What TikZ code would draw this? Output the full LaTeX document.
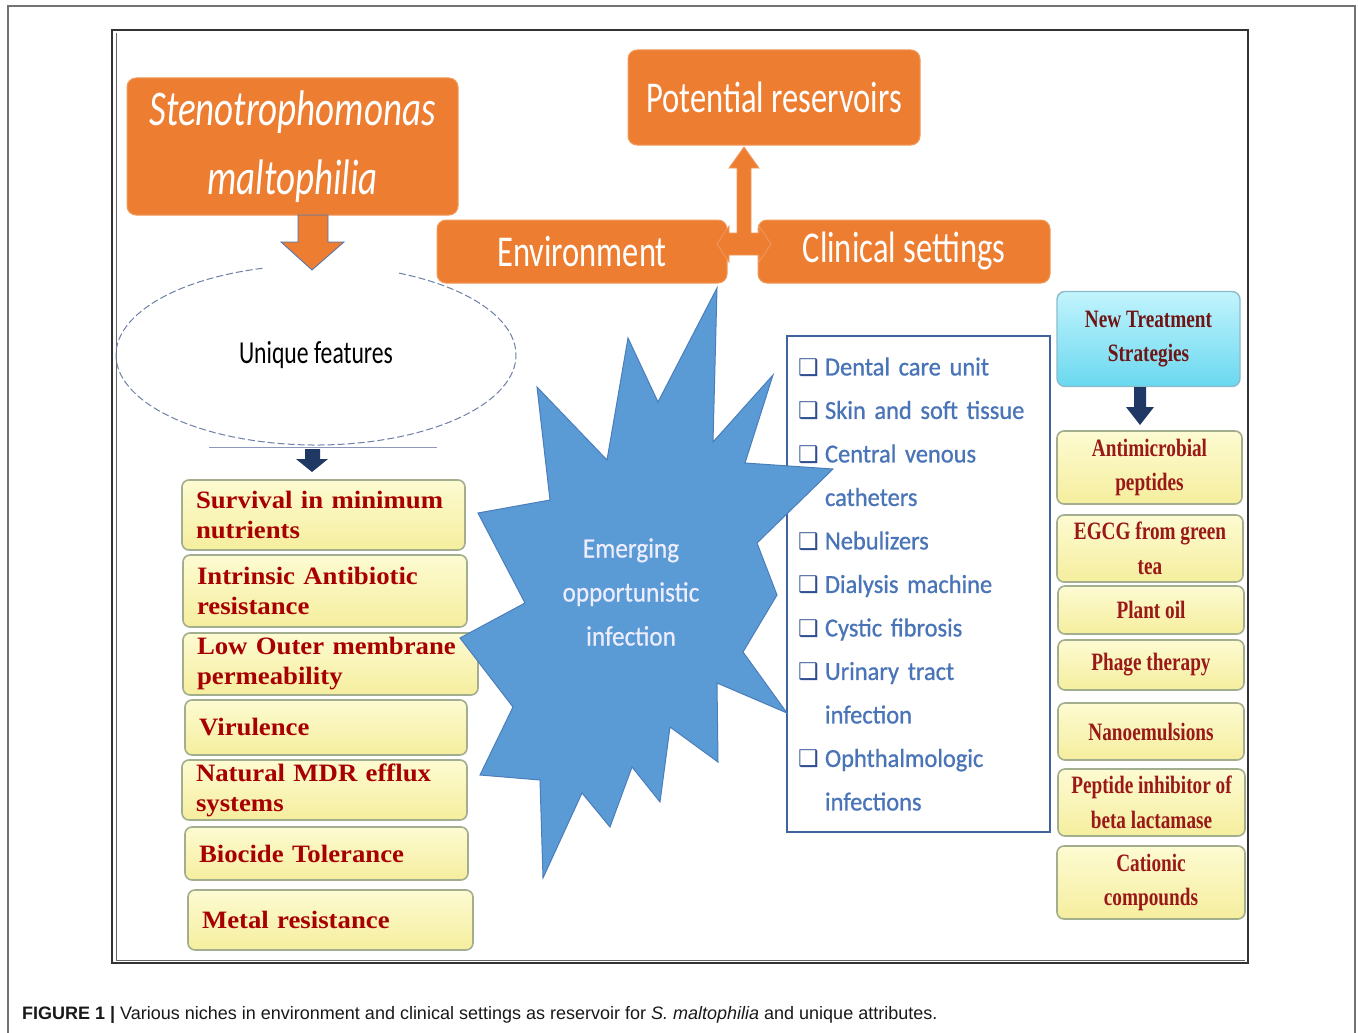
\documentclass[tikz,border=0pt]{standalone}
\usepackage{fontspec}
\setmainfont{Liberation Serif}
\newfontfamily\calA[FakeStretch=0.74]{Carlito}
\newfontfamily\calB[FakeStretch=0.9, FakeBold=0.5]{Carlito}
\newfontfamily\calL[FakeStretch=0.94, FakeBold=0.8]{Carlito}
\newfontfamily\serW[FakeStretch=1.07]{Liberation Serif}
\newfontfamily\serN[FakeStretch=0.77]{Liberation Serif}
\newfontfamily\capf{Liberation Sans}
\newfontfamily\djv{DejaVu Sans}
\definecolor{orng}{HTML}{ED7D31}
\definecolor{orngedge}{HTML}{F19A5C}
\definecolor{featred}{HTML}{A80000}
\definecolor{treatred}{HTML}{9A1818}
\definecolor{treatdark}{HTML}{6E1616}
\definecolor{listblue}{HTML}{4A74B8}
\definecolor{cbblue}{HTML}{2F4F8F}
\definecolor{starblue}{HTML}{5B9BD5}
\definecolor{staredge}{HTML}{4A7EBB}
\definecolor{navy}{HTML}{1F3864}
\definecolor{ybox}{HTML}{FDFBD2}
\definecolor{ybot}{HTML}{F5EE9E}
\definecolor{yedge}{HTML}{A3AE8E}
\definecolor{ctop}{HTML}{C2F4FD}
\definecolor{cbot}{HTML}{6AD8EF}
\definecolor{cedge}{HTML}{8CBCCB}
\definecolor{elcol}{HTML}{6E7FA8}
\newcommand\cbx{\makebox[27pt][l]{\djv\fontsize{23}{23}\selectfont\color{cbblue}❑}}
\newcommand\ind{\hspace*{27pt}}
\tikzset{
  orbox/.style={rectangle, rounded corners=9pt, fill=orng, draw=orngedge, line width=1pt,
    inner sep=0pt, text=white},
  featbox/.style={rectangle, rounded corners=7pt, top color=ybox, bottom color=ybot,
    draw=yedge, line width=1.6pt, inner xsep=14pt, inner ysep=0pt, align=left,
    text=featred, font=\serW\bfseries\fontsize{25}{30}\selectfont},
  treatbox/.style={rectangle, rounded corners=7pt, top color=ybox, bottom color=ybot,
    draw=yedge, line width=1.6pt, inner xsep=4pt, inner ysep=0pt, align=center,
    text=treatred, font=\serN\bfseries\fontsize{25}{34.5}\selectfont},
  blockarrow/.style={line width=0.8pt},
}
\begin{document}
\begin{tikzpicture}[x=1pt,y=-1pt]
\useasboundingbox (0,0) rectangle (1358,1033);
\fill[white] (0,0) rectangle (1358,1033);
% outer frame
\draw[black!55, line width=1.2pt] (8,1033) -- (8,6) -- (1355,6) -- (1355,1033);
% inner frame
\draw[black!80, line width=2pt] (112,30) rectangle (1248,963);
\draw[black!60, line width=0.8pt] (116,33) -- (116,960) -- (1245,960);

% orange boxes
\node[orbox, minimum width=331pt, minimum height=137pt, align=center,
  font=\calA\itshape\fontsize{50}{69}\selectfont] (steno) at (292.5,146.5)
  {Stenotrophomonas\\maltophilia};
\node[orbox, minimum width=292pt, minimum height=95pt,
  font=\calA\fontsize{44}{50}\selectfont] (pot) at (774,97.5) {Potential reservoirs};
\node[orbox, minimum width=290pt, minimum height=63pt,
  font=\calA\fontsize{44}{50}\selectfont] (env) at (582,251.5) {Environment};
\node[orbox, minimum width=292pt, minimum height=63pt,
  font=\calA\fontsize{44}{50}\selectfont] (clin) at (904,251.5) {Clinical settings};

% up / left-right arrow
\filldraw[fill=orng, draw=orngedge, blockarrow]
  (737,233) -- (737,168) -- (729,168) -- (744,147) -- (759,168) -- (751,168) -- (751,233)
  -- (759,233) -- (759,226) -- (771,244) -- (759,262) -- (759,255) -- (729,255)
  -- (729,262) -- (717,244) -- (729,226) -- (729,233) -- cycle;

% down arrow from steno
\filldraw[fill=orng, draw=listblue, blockarrow]
  (298,215) -- (328,215) -- (328,242) -- (344,242) -- (312,270) -- (281,242) -- (298,242) -- cycle;

% ellipse
\draw[elcol, line width=1pt, dash pattern=on 7pt off 3pt]
  (316,355) ++(294.5:200 and 90) arc[start angle=294.5, end angle=615.2, x radius=200, y radius=90];
\draw[elcol!80, line width=1pt] (209,447) -- (437,447);
\node[font=\calA\fontsize{32}{36}\selectfont, text=black] (uf) at (316,355) {Unique features};

% navy arrow below ellipse
\fill[navy] (305,449) -- (320,449) -- (320,459) -- (328,459) -- (312,472) -- (296,459) -- (305,459) -- cycle;

% feature boxes
\node[featbox, minimum width=283pt, minimum height=70pt, text width=255pt] (f1) at (323.5,515)
  {Survival in minimum\\nutrients};
\node[featbox, minimum width=284pt, minimum height=72pt, text width=256pt] (f2) at (325,591)
  {Intrinsic Antibiotic\\resistance};
\node[featbox, minimum width=295pt, minimum height=62pt, text width=267pt] (f3) at (330.5,664)
  {Low Outer membrane\\permeability};
\node[featbox, minimum width=282pt, minimum height=55pt, text width=254pt] (f4) at (326,727.5)
  {Virulence};
\node[featbox, minimum width=285pt, minimum height=60pt, text width=257pt] (f5) at (324.5,790)
  {Natural MDR efflux\\systems};
\node[featbox, minimum width=283pt, minimum height=53pt, text width=255pt] (f6) at (326.5,853.5)
  {Biocide Tolerance};
\node[featbox, minimum width=285pt, minimum height=60pt, text width=257pt] (f7) at (330.5,920)
  {Metal resistance};

% list box
\node[draw=listblue!85!black, line width=1.2pt, minimum width=263pt, minimum height=496pt,
  inner xsep=11pt, text width=241pt, align=left, text=listblue,
  font=\calL\fontsize{26}{43.5}\selectfont] (lst) at (918.5,584)
  {\cbx Dental care unit\\
   \cbx Skin and soft tissue\\
   \cbx Central venous\\
   \ind catheters\\
   \cbx Nebulizers\\
   \cbx Dialysis machine\\
   \cbx Cystic fibrosis\\
   \cbx Urinary tract\\
   \ind infection\\
   \cbx Ophthalmologic\\
   \ind infections};

% treatment column
\node[rectangle, rounded corners=8pt, top color=ctop, bottom color=cbot, draw=cedge,
  line width=1.4pt, minimum width=183pt, minimum height=95pt, inner sep=4pt, align=center,
  text=treatdark, font=\serN\bfseries\fontsize{25}{34.5}\selectfont] (r0) at (1148.5,339)
  {New Treatment\\Strategies};
\fill[navy] (1134,387) -- (1146,387) -- (1146,407) -- (1154,407) -- (1140,425) -- (1126,407) -- (1134,407) -- cycle;
\node[treatbox, minimum width=185pt, minimum height=73pt] (r1) at (1149.5,467.5) {Antimicrobial\\peptides};
\node[treatbox, minimum width=186pt, minimum height=67pt] (r2) at (1150,548.5) {EGCG from green\\tea};
\node[treatbox, minimum width=186pt, minimum height=48pt] (r3) at (1151,610) {Plant oil};
\node[treatbox, minimum width=186pt, minimum height=50pt] (r4) at (1151,665) {Phage therapy};
\node[treatbox, minimum width=186pt, minimum height=57pt] (r5) at (1151,731.5) {Nanoemulsions};
\node[treatbox, minimum width=187pt, minimum height=67pt] (r6) at (1151.5,802.5) {Peptide inhibitor of\\beta lactamase};
\node[treatbox, minimum width=188pt, minimum height=73pt] (r7) at (1151,882.5) {Cationic\\compounds};

% star
\filldraw[fill=starblue, draw=staredge, line width=1pt]
  (717,288) -- (713,442) -- (773,375) -- (745,463) -- (833,469) -- (757,543) -- (777,595)
  -- (743,652) -- (787,713) -- (717,683) -- (718,762) -- (670,727) -- (660,802) -- (632,767)
  -- (610,827) -- (582,793) -- (543,878) -- (540,780) -- (480,775) -- (513,707) -- (460,638)
  -- (525,603) -- (478,513) -- (550,500) -- (537,387) -- (607,460) -- (628,338) -- (658,402)
  -- cycle;
\node[align=center, text=white!93!blue, font=\calB\fontsize{28}{44}\selectfont] (emerg) at (631,592)
  {Emerging\\opportunistic\\infection};

% caption
\node[anchor=base west, inner sep=0pt, font=\capf\fontsize{18}{20}\selectfont, text=black!90] (cap) at (22,1019)
  {\textbf{FIGURE 1 |} Various niches in environment and clinical settings as reservoir for \textit{S. maltophilia} and unique attributes.};
\end{tikzpicture}
\end{document}
